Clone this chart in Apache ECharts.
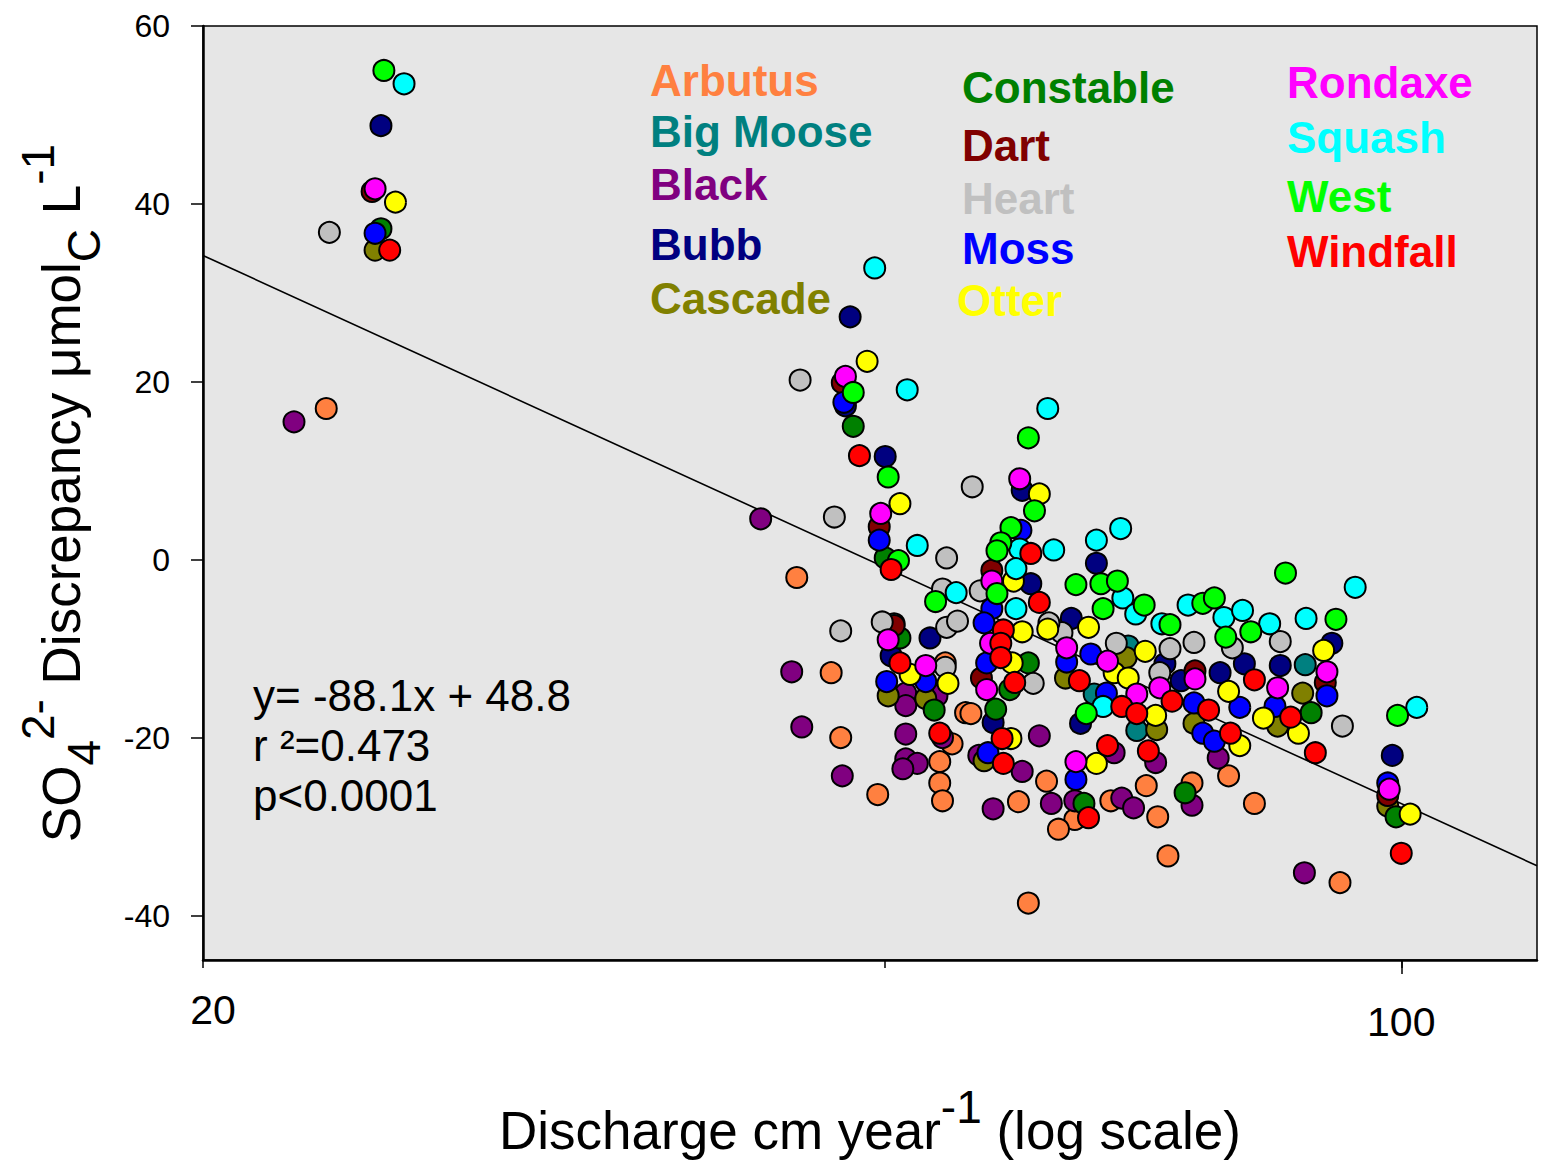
<!DOCTYPE html>
<html>
<head>
<meta charset="utf-8">
<script src="https://cdn.jsdelivr.net/npm/echarts@6/dist/echarts.min.js"></script>
<style>
html,body{margin:0;padding:0;background:#fff;}
#chart{width:1541px;height:1166px;}
</style>
</head>
<body>
<div id="chart"></div>
<script>
// ---- DATA: [discharge cm/yr, SO4 discrepancy µmolc/L] ----
const arbutus = [[23.6,17.0],[44.4,-2.0],[46.5,-12.7],[47.1,-20.0],[49.5,-26.4],[54.2,-11.6],[55.7,-17.2],[54.7,-20.7],[53.8,-22.7],[53.8,-25.1],[54.0,-27.1],[56.1,-17.3],[62.1,-24.9],[59.8,-27.2],[64.5,-29.2],[63.1,-30.3],[60.6,-38.6],[79.3,-24.3],[71.0,-25.4],[75.5,-25.1],[67.7,-27.1],[72.1,-28.9],[73.1,-33.3],[82.1,-27.4],[92.1,-36.3]];
const bigMoose = [[50.6,-7.2],[66.2,-15.1],[69.3,-9.7],[70.1,-19.2],[87.9,-11.8]];
const black = [[22.6,15.5],[42.3,4.6],[44.1,-12.6],[44.7,-18.8],[47.2,-24.3],[51.4,-15.0],[51.4,-16.4],[53.6,-15.3],[51.4,-19.6],[54.0,-20.0],[51.4,-22.4],[52.2,-22.9],[51.2,-23.5],[61.5,-19.8],[56.7,-22.0],[60.1,-23.8],[57.8,-28.0],[62.5,-27.4],[64.5,-27.1],[78.2,-22.3],[68.0,-21.7],[71.9,-22.8],[75.5,-27.6],[68.7,-26.8],[69.8,-27.9],[87.8,-35.2]];
const bubb = [[25.4,48.8],[47.7,27.3],[47.4,17.3],[50.0,11.6],[53.1,-8.8],[50.4,-10.8],[60.1,7.8],[60.8,-2.7],[57.8,-18.3],[64.2,-6.6],[65.0,-18.4],[66.4,-0.4],[72.8,-11.7],[78.4,-12.7],[74.4,-13.6],[81.0,-11.7],[85.0,-11.9],[91.1,-9.4],[98.8,-22.0]];
const cascade = [[25.2,34.8],[50.2,-15.3],[52.8,-15.6],[57.1,-22.6],[63.7,-13.3],[69.1,-11.0],[72.0,-19.1],[75.7,-18.4],[87.6,-15.0],[84.7,-18.7],[98.2,-27.7]];
const constable = [[25.4,37.2],[47.9,15.0],[50.0,0.2],[51.0,-8.8],[53.4,-16.9],[58.0,-16.8],[60.6,-11.6],[59.1,-14.6],[65.3,-27.4],[74.8,-26.2],[88.6,-17.2],[99.3,-28.9]];
const dart = [[25.1,41.4],[47.2,19.9],[49.6,3.7],[50.6,-7.4],[57.7,-1.2],[56.9,-13.3],[75.8,-12.5],[90.3,-13.8],[98.2,-26.5]];
const heart = [[23.7,36.8],[44.6,20.2],[46.7,4.8],[54.3,0.2],[54.0,-3.3],[49.8,-7.0],[54.3,-7.6],[55.1,-6.9],[47.1,-8.0],[54.2,-12.1],[56.2,8.2],[56.8,-3.5],[63.4,-8.2],[61.0,-13.9],[62.3,-7.1],[68.2,-9.4],[73.3,-10.0],[75.7,-9.3],[79.7,-9.9],[72.3,-12.7],[85.0,-9.2],[92.4,-18.7]];
const moss = [[25.2,36.7],[47.3,17.7],[49.6,2.2],[50.1,-13.7],[52.8,-13.7],[57.7,-5.5],[57.1,-7.1],[57.3,-11.6],[57.4,-21.7],[63.8,-11.5],[65.9,-10.6],[64.6,-24.7],[67.3,-15.0],[75.7,-16.1],[80.5,-16.6],[76.6,-19.5],[77.8,-20.4],[84.4,-16.5],[90.5,-15.3],[98.2,-25.1],[60.0,3.3]];
const otter = [[25.9,40.2],[48.8,22.3],[51.0,6.3],[51.7,-12.9],[54.4,-13.9],[61.5,7.4],[59.4,-2.4],[60.1,-8.1],[62.2,-7.8],[65.7,-7.6],[59.3,-11.6],[59.2,-20.1],[66.4,-22.9],[70.9,-10.3],[68.0,-12.7],[69.3,-13.3],[79.3,-14.8],[71.9,-17.5],[80.5,-20.9],[83.1,-17.8],[87.1,-19.5],[90.1,-10.2],[101.2,-28.6]];
const rondaxe = [[25.2,41.7],[47.4,20.6],[49.7,5.2],[50.2,-9.0],[52.8,-11.9],[59.9,9.1],[57.7,-2.4],[57.6,-9.4],[57.3,-14.6],[63.8,-9.9],[64.6,-22.7],[67.4,-11.4],[75.8,-13.4],[72.3,-14.4],[70.1,-15.1],[84.7,-14.4],[90.5,-12.6],[98.4,-25.8]];
const squash = [[26.2,53.5],[49.3,32.8],[51.5,19.1],[52.2,1.6],[55.0,-3.7],[62.2,17.0],[59.9,1.2],[62.7,1.1],[59.6,-1.0],[59.6,-5.5],[66.4,2.2],[68.6,3.5],[68.8,-4.3],[70.0,-6.1],[72.5,-7.2],[75.1,-5.1],[78.8,-6.5],[80.8,-5.7],[83.8,-7.2],[88.0,-6.6],[94.0,-3.1],[67.0,-16.5],[102.1,-16.6]];
const west = [[25.5,55.0],[47.9,18.8],[50.2,9.3],[50.9,-0.1],[53.5,-4.7],[60.6,13.7],[61.1,5.5],[59.2,3.6],[58.4,1.9],[58.1,1.0],[64.6,-2.8],[58.1,-3.8],[66.8,-2.7],[68.3,-2.4],[67.0,-5.5],[70.8,-5.1],[76.6,-4.9],[77.8,-4.3],[79.0,-8.7],[73.3,-7.3],[65.5,-17.3],[81.7,-8.1],[85.6,-1.5],[91.6,-6.7],[99.5,-17.5]];
const windfall = [[25.7,34.8],[48.3,11.7],[50.4,-1.1],[51.0,-11.6],[53.8,-19.5],[60.8,0.7],[61.5,-4.8],[58.6,-7.9],[58.4,-9.4],[58.4,-11.0],[59.5,-13.8],[64.9,-13.6],[58.5,-20.1],[58.6,-22.9],[65.7,-29.0],[68.7,-16.5],[70.1,-17.3],[73.5,-15.9],[77.2,-16.9],[79.5,-19.5],[67.4,-20.9],[71.2,-21.5],[82.1,-13.5],[86.2,-17.7],[89.1,-21.7],[100.0,-33.0]];
const regressionLine = [[20,34.2],[120,-34.4]];
const lakeNames = ['Arbutus','Big Moose','Black','Bubb','Cascade','Constable','Dart','Heart','Moss','Otter','Rondaxe','Squash','West','Windfall'];
const lakeData = [arbutus,bigMoose,black,bubb,cascade,constable,dart,heart,moss,otter,rondaxe,squash,west,windfall];
const yTicks = [-40,-20,0,20,40,60];
const xTicks = [20,50,100];
const xLabels = [20,100];
const statLines = ['y= -88.1x + 48.8','r \u00b2=0.473','p<0.0001'];

// ---- STYLE ----
const colors = ['#FF8040','#008080','#800080','#000080','#808000','#008000','#800000','#C0C0C0','#0000FF','#FFFF00','#FF00FF','#00FFFF','#00FF00','#FF0000'];
const legendPos = [[650,80],[650,131],[650,184],[650,244],[650,298],[962,87],[962,145],[962,198],[962,248],[957,300],[1287,82],[1287,137],[1287,196],[1287,251]];
const FONT = '"Liberation Sans", Arial, Helvetica, sans-serif';

const chart = echarts.init(document.getElementById('chart'), null, {renderer:'svg'});

const series = [{
  type:'line', data: regressionLine, symbol:'none', silent:true, z:1,
  lineStyle:{color:'#000', width:1.6}
}];
lakeNames.forEach((n,i)=>{
  series.push({
    type:'scatter', name:n, data: lakeData[i], symbol:'circle', symbolSize:21, z:2+i,
    itemStyle:{color:colors[i], borderColor:'#000', borderWidth:2, opacity:1}
  });
});

const graphics = [];
lakeNames.forEach((n,i)=>{
  graphics.push({type:'text', x:legendPos[i][0], y:legendPos[i][1], z:100,
    style:{text:n, fill:colors[i], font:'bold 44px '+FONT, align:'left', verticalAlign:'middle', textAlign:'left', textVerticalAlign:'middle'}});
});
statLines.forEach((t,i)=>{
  graphics.push({type:'text', x:253, y:695+50*i, z:100,
    style:{text:t, fill:'#000', font:'44px '+FONT, align:'left', verticalAlign:'middle', textAlign:'left', textVerticalAlign:'middle'}});
});

const option = {
  animation:false,
  backgroundColor:'#fff',
  textStyle:{fontFamily:FONT},
  grid:{left:203, top:26, right:4, bottom:206, show:true, backgroundColor:'#e6e6e6', borderColor:'#000', borderWidth:1.5, containLabel:false},
  xAxis:[{
    type:'log', logBase:10, min:20, max:120,
    axisLine:{show:true, onZero:false, lineStyle:{color:'#000', width:2.5}},
    axisTick:{show:true, customValues:xTicks, length:8, lineStyle:{color:'#000', width:1.5}},
    axisLabel:{show:true, customValues:xLabels, margin:29, color:'#000', fontSize:41, fontFamily:FONT,
      formatter:(v)=> (Math.round(v)===20 ? '{a|20}' : '{b|100}'),
      rich:{a:{fontSize:41, fontFamily:FONT, color:'#000', padding:[0,0,0,20]}, b:{fontSize:41, fontFamily:FONT, color:'#000', padding:[12,0,0,0]}}},
    splitLine:{show:false}, minorTick:{show:false}, minorSplitLine:{show:false},
    name:'{n|Discharge cm year}{sup|-1}{n| (log scale)}',
    nameLocation:'middle', nameGap:124,
    nameTextStyle:{rich:{
      n:{fontSize:53, fontFamily:FONT, color:'#000', lineHeight:92},
      sup:{fontSize:46, fontFamily:FONT, color:'#000', lineHeight:46, verticalAlign:'top'}
    }}
  },{
    type:'log', logBase:10, min:20, max:120, position:'bottom',
    axisLine:{show:false, onZero:false}, axisLabel:{show:false}, splitLine:{show:false},
    axisTick:{show:true, customValues:[100], length:14, lineStyle:{color:'#000', width:1.5}}
  }],
  yAxis:{
    type:'value', min:-45, max:60,
    axisLine:{show:true, onZero:false, lineStyle:{color:'#000', width:2.5}},
    axisTick:{show:true, customValues:yTicks, length:12, lineStyle:{color:'#000', width:1.5}},
    axisLabel:{show:true, customValues:yTicks, margin:33, color:'#000', fontSize:32, fontFamily:FONT},
    splitLine:{show:false},
    name:'{n|SO}{sub|4}{sup|2-}{n| Discrepancy \u03bcmol}{sub|C}{n| L}{sup|-1}',
    nameLocation:'middle', nameRotate:90, nameGap:96,
    nameTextStyle:{rich:{
      n:{fontSize:53, fontFamily:FONT, color:'#000', lineHeight:92},
      sub:{fontSize:46, fontFamily:FONT, color:'#000', lineHeight:66, verticalAlign:'bottom'},
      sup:{fontSize:46, fontFamily:FONT, color:'#000', lineHeight:46, verticalAlign:'top'}
    }}
  },
  series: series,
  graphic: graphics
};
chart.setOption(option);
</script>
</body>
</html>
